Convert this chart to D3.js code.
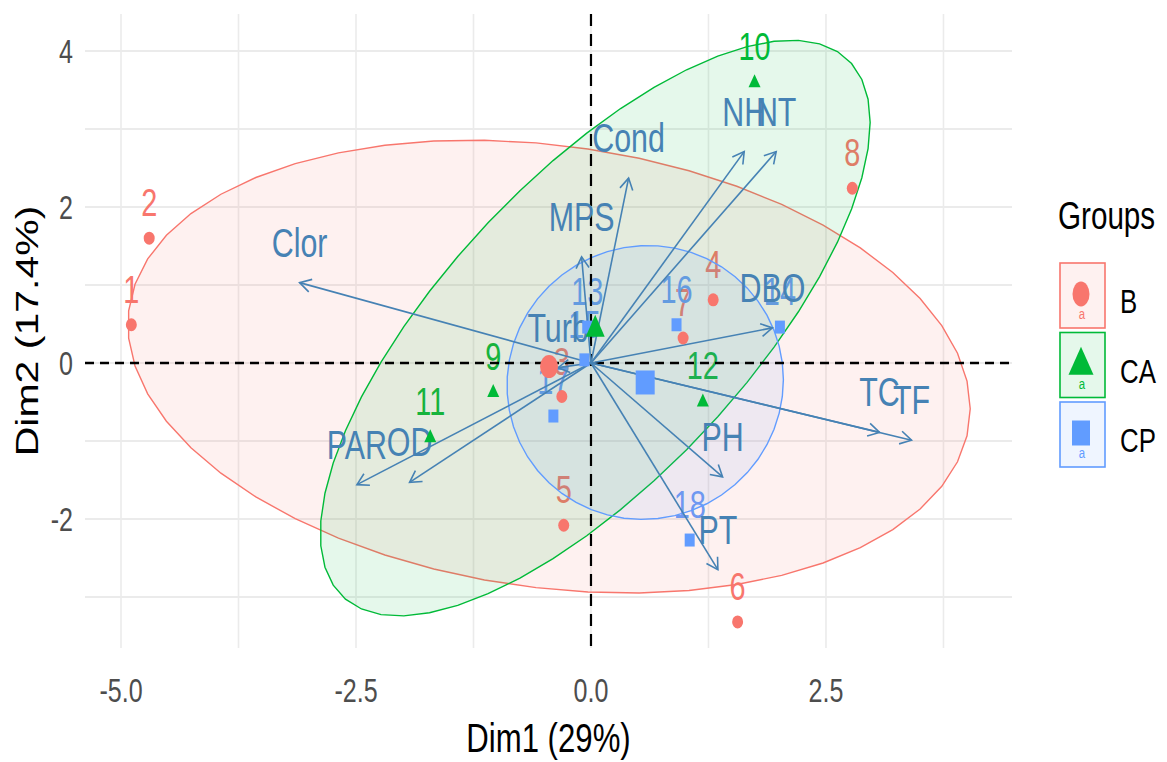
<!DOCTYPE html>
<html><head><meta charset="utf-8">
<script src="https://cdn.jsdelivr.net/npm/d3@7"></script>
<style>
body{margin:0;background:#fff}
svg{display:block}
text{font-family:"Liberation Sans",Arial,Helvetica,sans-serif}
</style>
</head><body>
<svg id="chart" width="1167" height="762"></svg>
<script>
// ---------- data ----------
const groups = ["B", "CA", "CP"];
const groupColors = ["#F8766D", "#00BA38", "#619CFF"];
const groupShapes = ["circle", "triangle", "square"];

const indNames = ["1","2","3","4","5","6","7","8","9","10","11","12","13","14","15","16","17","18"];
const indGroup = ["B","B","B","B","B","B","B","B","CA","CA","CA","CA","CP","CP","CP","CP","CP","CP"];
const indDim1 = [-4.89,-4.70,-0.31,1.30,-0.29,1.56,0.98,2.78,-1.04,1.74,-1.71,1.19,-0.04,2.01,-0.07,0.91,-0.40,1.05];
const indDim2 = [0.49,1.60,-0.43,0.81,-2.08,-3.32,0.32,2.24,-0.37,3.60,-0.95,-0.49,0.46,0.46,0.04,0.49,-0.68,-2.27];

const varNames = ["Clor","Cond","MPS","Turb","NH","NT","DBO","TC","TF","PH","PT","PAR","OD"];
const varDim1 = [-3.10,0.40,-0.10,-0.35,1.63,1.97,1.93,3.07,3.41,1.40,1.35,-2.49,-1.93];
const varDim2 = [1.03,2.37,1.36,-0.06,2.71,2.71,0.45,-0.89,-0.99,-1.46,-2.65,-1.56,-1.53];

const xTicks = [-5, -2.5, 0, 2.5];
const xTickLabels = ["-5.0", "-2.5", "0.0", "2.5"];
const xMinor = [-3.75, -1.25, 1.25, 3.75];
const yTicks = [-2, 0, 2, 4];
const yTickLabels = ["-2", "0", "2", "4"];
const yMinor = [-3, -1, 1, 3];

const xTitle = "Dim1 (29%)";
const yTitle = "Dim2 (17.4%)";
const legendTitle = "Groups";
const ellipseLevel = 0.65;

// ---------- setup ----------
const SX = 0.76; // horizontal squeeze of glyphs
const svg = d3.select("#chart");
const panel = {l: 85, r: 1012, t: 14, b: 648};
const x = d3.scaleLinear().domain([-5.383, 4.479]).range([panel.l, panel.r]);
const y = d3.scaleLinear().domain([-3.654, 4.474]).range([panel.b, panel.t]);
const colorOf = d3.scaleOrdinal().domain(groups).range(groupColors);
const shapeOf = d3.scaleOrdinal().domain(groups).range(groupShapes);

function txt(g, px, py, s, size, fill, anchor, rot) {
  return g.append("text")
    .attr("transform", `translate(${px},${py}) scale(${SX},1)` + (rot ? ` rotate(${rot})` : ""))
    .attr("font-size", size).attr("fill", fill)
    .attr("text-anchor", anchor || "middle")
    .text(s);
}

function shapePath(shape, cx, cy, w, h) {
  if (shape === "circle") {
    const rx = w / 2, ry = h / 2;
    return `M${cx - rx},${cy}a${rx},${ry} 0 1,0 ${2 * rx},0a${rx},${ry} 0 1,0 ${-2 * rx},0Z`;
  }
  if (shape === "square") {
    return `M${cx - w / 2},${cy - h / 2}h${w}v${h}h${-w}Z`;
  }
  return `M${cx},${cy - h * 0.6}L${cx + w / 2},${cy + h * 0.4}L${cx - w / 2},${cy + h * 0.4}Z`;
}

// ---------- grid ----------
const grid = svg.append("g");
[...xTicks, ...xMinor].forEach(v => {
  grid.append("line").attr("x1", x(v)).attr("x2", x(v)).attr("y1", panel.t).attr("y2", panel.b)
    .attr("stroke", "#ebebeb").attr("stroke-width", 1.6);
});
[...yTicks, ...yMinor].forEach(v => {
  grid.append("line").attr("y1", y(v)).attr("y2", y(v)).attr("x1", panel.l).attr("x2", panel.r)
    .attr("stroke", "#ebebeb").attr("stroke-width", 2);
});

// ---------- axes text ----------
const axisG = svg.append("g");
xTicks.forEach((v, i) => txt(axisG, x(v), 702, xTickLabels[i], 33, "#4d4d4d", "middle"));
yTicks.forEach((v, i) => txt(axisG, 73, y(v) + 12, yTickLabels[i], 33, "#4d4d4d", "end"));
txt(axisG, (panel.l + panel.r) / 2, 752, xTitle, 41, "#000", "middle");
txt(axisG, 38, (panel.t + panel.b) / 2, yTitle, 41, "#000", "middle", -90);

// ---------- individuals (labels first) ----------
const inds = indNames.map((n, i) => ({name: n, group: indGroup[i], x: indDim1[i], y: indDim2[i]}));
const indLabG = svg.append("g");
inds.forEach(d => {
  txt(indLabG, x(d.x), y(d.y) - 22, d.name, 38, colorOf(d.group), "middle");
});

// ---------- ellipses ----------
function qf2(p, d) { return (d / 2) * (Math.pow(1 - p, -2 / d) - 1); }
const ellG = svg.append("g");
const means = [];
groups.forEach(gname => {
  const pts = inds.filter(d => d.group === gname);
  const n = pts.length;
  const mx = d3.mean(pts, d => d.x), my = d3.mean(pts, d => d.y);
  const a = d3.sum(pts, d => (d.x - mx) ** 2) / (n - 1);
  const c = d3.sum(pts, d => (d.y - my) ** 2) / (n - 1);
  const b = d3.sum(pts, d => (d.x - mx) * (d.y - my)) / (n - 1);
  const r = Math.sqrt(2 * qf2(ellipseLevel, n - 1));
  const R11 = Math.sqrt(a), R12 = b / R11, R22 = Math.sqrt(c - R12 * R12);
  const poly = d3.range(0, 52).map(k => {
    const t = k / 51 * 2 * Math.PI;
    const ct = Math.cos(t), st = Math.sin(t);
    return [x(mx + r * ct * R11), y(my + r * (ct * R12 + st * R22))];
  });
  ellG.append("path").attr("d", d3.line()(poly) + "Z")
    .attr("fill", colorOf(gname)).attr("fill-opacity", 0.1)
    .attr("stroke", colorOf(gname)).attr("stroke-width", 1.4);
  means.push({group: gname, x: mx, y: my});
});

// ---------- reference lines ----------
svg.append("line").attr("x1", panel.l).attr("x2", panel.r).attr("y1", y(0)).attr("y2", y(0))
  .attr("stroke", "#000").attr("stroke-width", 2.6).attr("stroke-dasharray", "9,6");
svg.append("line").attr("x1", x(0)).attr("x2", x(0)).attr("y1", panel.t).attr("y2", panel.b)
  .attr("stroke", "#000").attr("stroke-width", 2.2).attr("stroke-dasharray", "12,8");

// ---------- variables ----------
const vars = varNames.map((n, i) => ({name: n, x: varDim1[i], y: varDim2[i]}));
const varG = svg.append("g");
const arrowColor = "#4682B4";
vars.forEach(v => {
  const x0 = x(0), y0 = y(0), x1 = x(v.x), y1 = y(v.y);
  varG.append("line").attr("x1", x0).attr("y1", y0).attr("x2", x1).attr("y2", y1)
    .attr("stroke", arrowColor).attr("stroke-width", 1.6);
  const ang = Math.atan2(y1 - y0, x1 - x0);
  const L = 13, A = Math.PI / 6;
  const p1 = [x1 - L * Math.cos(ang - A), y1 - L * Math.sin(ang - A)];
  const p2 = [x1 - L * Math.cos(ang + A), y1 - L * Math.sin(ang + A)];
  varG.append("path").attr("d", `M${p1[0]},${p1[1]}L${x1},${y1}L${p2[0]},${p2[1]}`)
    .attr("fill", "none").attr("stroke", arrowColor).attr("stroke-width", 1.6);
});
vars.forEach(v => {
  txt(varG, x(v.x), y(v.y) - 26, v.name, 40, arrowColor, "middle");
});

// ---------- individual points and group means (on top) ----------
const ptG = svg.append("g");
inds.forEach(d => {
  const s = shapeOf(d.group);
  const w = s === "triangle" ? 12 : (s === "square" ? 10 : 11);
  ptG.append("path").attr("d", shapePath(s, x(d.x), y(d.y), w, 13)).attr("fill", colorOf(d.group));
});
means.forEach(m => {
  const s = shapeOf(m.group);
  const w = s === "circle" ? 18 : 19;
  const h = s === "triangle" ? 22 : (s === "square" ? 24 : 23);
  ptG.append("path").attr("d", shapePath(s, x(m.x), y(m.y), w, h)).attr("fill", colorOf(m.group));
});

// ---------- legend ----------
const lg = svg.append("g");
txt(lg, 1058, 229, legendTitle, 39, "#000", "start");
groups.forEach((gname, i) => {
  const top = 263 + i * 69.5;
  lg.append("rect").attr("x", 1060).attr("y", top).attr("width", 45).attr("height", 65)
    .attr("fill", colorOf(gname)).attr("fill-opacity", 0.1)
    .attr("stroke", colorOf(gname)).attr("stroke-width", 1.6);
  const s = shapeOf(gname);
  const w = s === "triangle" ? 25 : (s === "square" ? 18 : 17);
  const h = s === "triangle" ? 28 : 25;
  lg.append("path").attr("d", shapePath(s, 1081, top + 31, w, h)).attr("fill", colorOf(gname));
  txt(lg, 1082, top + 56, "a", 15, colorOf(gname), "middle");
  txt(lg, 1120, top + 50, gname, 34, "#000", "start");
});
</script>
</body></html>
